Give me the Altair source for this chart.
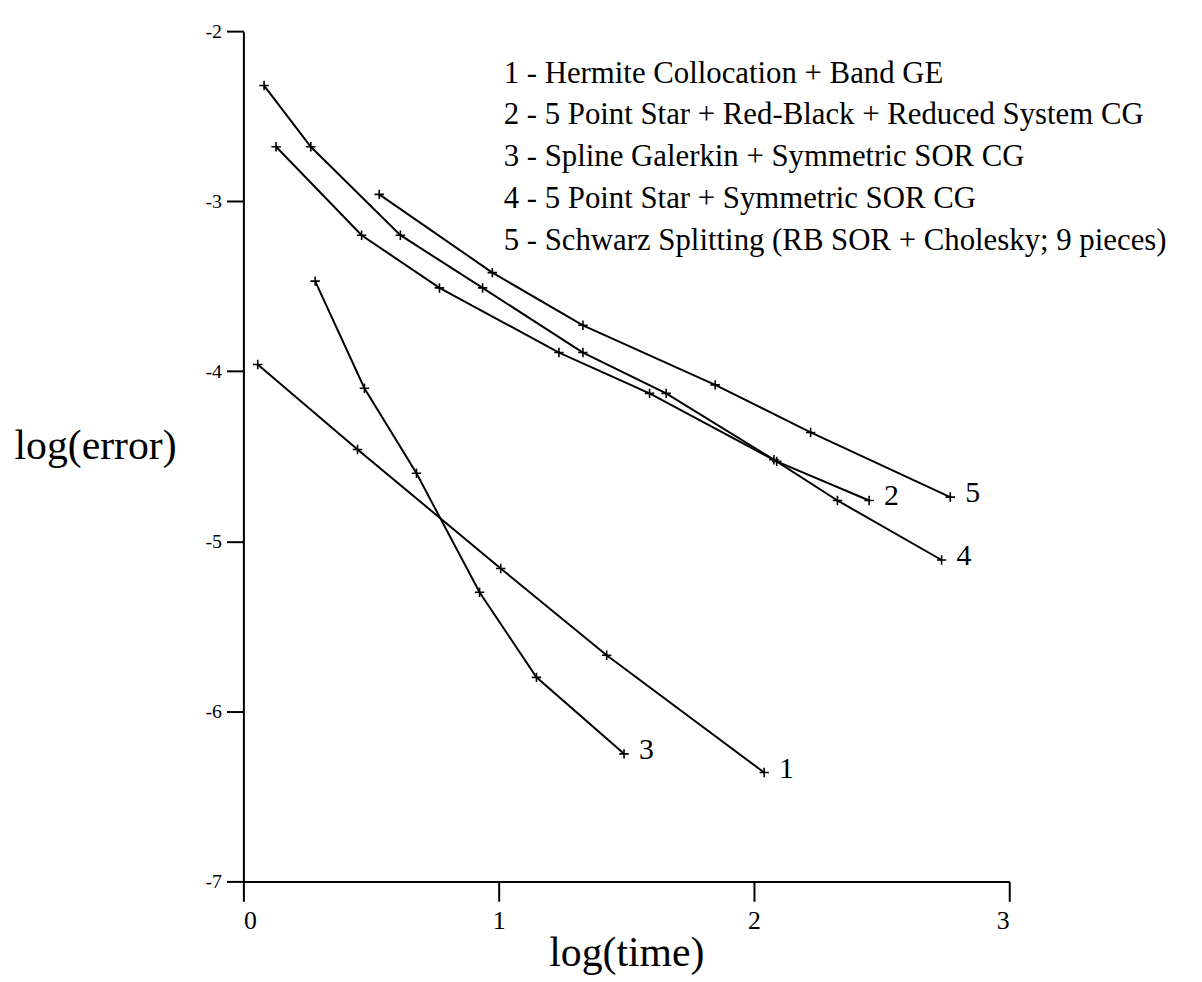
import altair as alt
import pandas as pd

# ---- data ----
s1_x = [0.056, 0.447, 1.008, 1.423, 2.040]
s1_y = [-3.96, -4.46, -5.16, -5.67, -6.36]

s2_x = [0.128, 0.463, 0.768, 1.236, 1.591, 2.089, 2.451]
s2_y = [-2.68, -3.20, -3.51, -3.89, -4.13, -4.53, -4.76]

s3_x = [0.281, 0.474, 0.678, 0.925, 1.148, 1.491]
s3_y = [-3.47, -4.10, -4.60, -5.30, -5.80, -6.25]

s4_x = [0.081, 0.264, 0.615, 0.937, 1.330, 1.656, 2.078, 2.327, 2.735]
s4_y = [-2.32, -2.68, -3.20, -3.51, -3.89, -4.13, -4.52, -4.76, -5.11]

s5_x = [0.532, 0.975, 1.330, 1.848, 2.222, 2.769]
s5_y = [-2.96, -3.42, -3.73, -4.08, -4.36, -4.74]

series_ids = ["1", "2", "3", "4", "5"]
legend_lines = [
    "1 - Hermite Collocation + Band GE",
    "2 - 5 Point Star + Red-Black + Reduced System CG",
    "3 - Spline Galerkin + Symmetric SOR CG",
    "4 - 5 Point Star + Symmetric SOR CG",
    "5 - Schwarz Splitting (RB SOR + Cholesky; 9 pieces)",
]
x_ticks = [0, 1, 2, 3]
y_ticks = [-7, -6, -5, -4, -3, -2]

xs = [s1_x, s2_x, s3_x, s4_x, s5_x]
ys = [s1_y, s2_y, s3_y, s4_y, s5_y]

rows = []
for sid, xx, yy in zip(series_ids, xs, ys):
    for a, b in zip(xx, yy):
        rows.append({"series": sid, "t": a, "e": b})
df = pd.DataFrame(rows)

ends = pd.DataFrame(
    [{"series": sid, "t": xx[-1], "e": yy[-1]} for sid, xx, yy in zip(series_ids, xs, ys)]
)

FONT = "Liberation Serif"

xscale = alt.Scale(domain=[0, 3], nice=False, zero=False)
yscale = alt.Scale(domain=[-7, -2], nice=False, zero=False)

X = alt.X(
    "t:Q",
    scale=xscale,
    axis=alt.Axis(
        values=x_ticks,
        title="log(time)",
        labelExpr="'' + datum.value",
        titlePadding=0,
    ),
)
Y = alt.Y(
    "e:Q",
    scale=yscale,
    axis=alt.Axis(
        values=y_ticks,
        title="log(error)",
        labelExpr="'' + datum.value",
        titleAngle=0,
        titleAlign="left",
        titleBaseline="alphabetic",
        titleX=-231,
        titleY=430,
    ),
)

base = alt.Chart(df)

lines = base.mark_line(color="black", strokeWidth=2).encode(
    x=X, y=Y, detail="series:N"
)

pts = base.mark_point(
    shape="M -1 0 L 1 0 M 0 -1 L 0 1",
    filled=False,
    stroke="black",
    strokeWidth=1.6,
    size=90,
    opacity=1,
).encode(x=X, y=Y)

end_labels = alt.Chart(ends).mark_text(
    font=FONT, fontSize=30, align="left", baseline="middle", dx=15, dy=-4, color="black"
).encode(x=X, y=Y, text="series:N")

legend_text = alt.Chart(pd.DataFrame({"txt": ["\n".join(legend_lines)]})).mark_text(
    font=FONT,
    fontSize=31,
    align="left",
    baseline="alphabetic",
    lineBreak="\n",
    lineHeight=42,
    color="black",
).encode(x=alt.value(262), y=alt.value(52), text="txt:N")

chart = (
    alt.layer(lines, pts, end_labels, legend_text)
    .properties(
        width=771,
        height=856,
        autosize=alt.AutoSizeParams(type="none"),
        padding={"left": 237, "top": 20, "right": 186, "bottom": 100},
        background="white",
    )
    .configure_view(stroke=None)
    .configure_axis(
        grid=False,
        domainColor="black",
        domainWidth=2,
        tickColor="black",
        tickWidth=2,
        labelColor="black",
        titleColor="black",
        labelFont=FONT,
        titleFont=FONT,
        titleFontSize=42,
        titleFontWeight="normal",
    )
    .configure_axisX(labelFontSize=26, labelPadding=6, tickSize=20)
    .configure_axisY(labelFontSize=20, labelPadding=5, tickSize=17)
)

chart.save("out.html", embed_options={"renderer": "svg", "actions": False})
